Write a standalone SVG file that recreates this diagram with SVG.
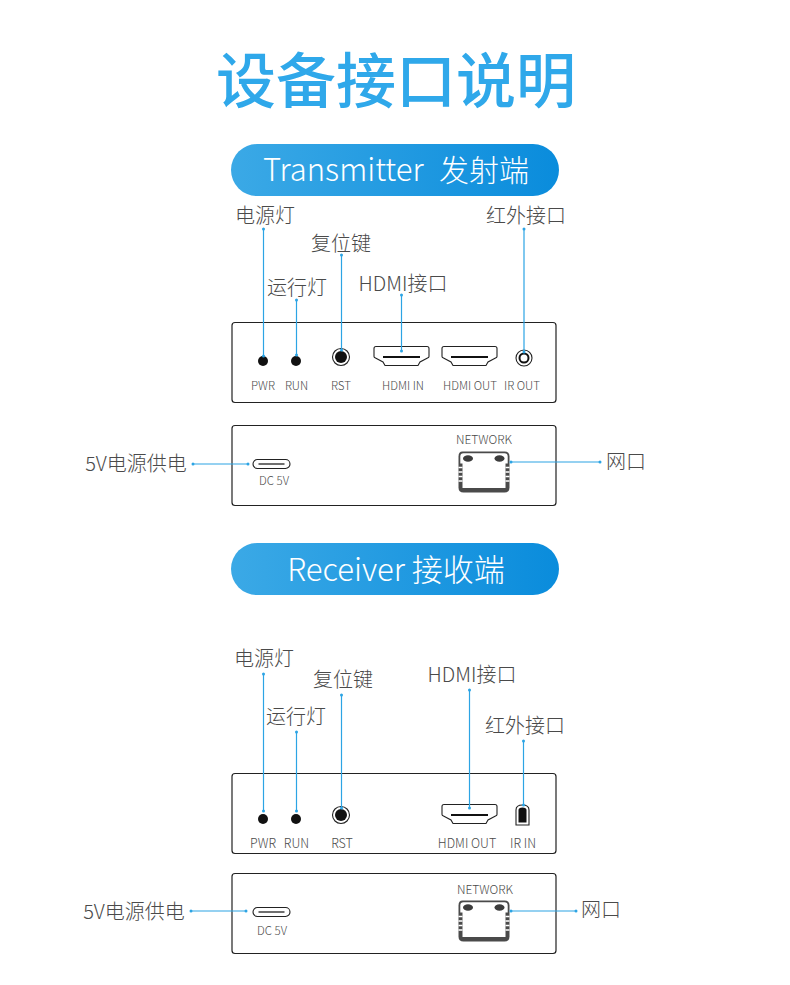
<svg xmlns="http://www.w3.org/2000/svg" xmlns:xlink="http://www.w3.org/1999/xlink" width="790" height="985" viewBox="0 0 790 985">
<style>
text{font-family:"Noto Sans CJK SC","Noto Sans",sans-serif;font-weight:300}
.title{font-size:60px;fill:#2fa8ea;font-weight:500}
.pill{font-size:31px;fill:#fff}
.lab{font-size:20px;fill:#4a4a4a}
.sm{font-size:11.500px;fill:#4a4a4a}
.sm2{font-size:12.500px;fill:#4a4a4a}
.box{fill:#fff;stroke:#222;stroke-width:1.200}
.ln{fill:none;stroke:#2ca4e4;stroke-width:1.200}
.dot{fill:#2ca4e4}
.port{fill:#fff;stroke:#222;stroke-width:1.100}
.k{fill:#111}
</style>
<defs>
<linearGradient id="g" x1="0" x2="1" y1="0" y2="0"><stop offset="0" stop-color="#3ba9e6"/><stop offset="1" stop-color="#0a8cdc"/></linearGradient>
<g id="hdmi"><path class="port" d="M-25 -11.500H26Q28 -11.500 28 -9.500V-1.500Q28 -0.500 26.500 0L19 4L17 7.500H-16L-18 4L-25.500 0Q-27 -0.500 -27 -1.500V-9.500Q-27 -11.500 -25 -11.500Z"/><rect class="k" x="-18" y="-2" width="37" height="2"/></g>
<g id="rj"><path fill="#4a4a4a" d="M4 0H46Q51 0 51 5V36Q51 41 46 41H5Q0 41 0 36V5Q0 0 4 0Z"/>
<path fill="#fff" d="M5 1.800H46Q49.200 1.800 49.200 5V12H47V36.500H4V12H1.800V5Q1.800 1.800 5 1.800Z"/>
<ellipse cx="9.500" cy="7" rx="5" ry="3.200" fill="#3c3c3c"/><ellipse cx="41" cy="7" rx="5" ry="3.200" fill="#3c3c3c"/>
<path stroke="#fff" stroke-width="1.300" d="M0 16H4M0 20.500H4M0 25H4M0 29.500H4M47 16H51M47 20.500H51M47 25H51M47 29.500H51"/></g>
<g id="typec"><rect class="port" x="-18.500" y="-4.500" width="37" height="9" rx="4.500"/><rect class="k" x="-13" y="-0.600" width="26" height="1.200"/></g>
</defs>
<rect width="790" height="985" fill="#fff"/>
<text class="title" x="396" y="103" text-anchor="middle">设备接口说明</text>

<g id="pill-tx"><rect x="231" y="144" width="328" height="52" rx="26" fill="url(#g)"/><text class="pill" x="263" y="181">Transmitter</text><text class="pill" x="439" y="181" style="font-size:30px">发射端</text></g>

<g id="box-tx-front"><rect class="box" x="232" y="322.500" width="324" height="80" rx="3"/>
<circle class="k" cx="263" cy="361" r="5"/><text class="sm" x="263" y="390" text-anchor="middle">PWR</text>
<circle class="k" cx="296" cy="361" r="5"/><text class="sm" x="296.500" y="390" text-anchor="middle">RUN</text>
<circle class="port" cx="341" cy="357" r="8.500"/><circle class="k" cx="341" cy="357" r="6"/><text class="sm" x="341" y="390" text-anchor="middle">RST</text>
<use xlink:href="#hdmi" href="#hdmi" x="401" y="358"/><text class="sm" x="403" y="390" text-anchor="middle">HDMI IN</text>
<use xlink:href="#hdmi" href="#hdmi" x="469" y="358"/><text class="sm" x="470" y="390" text-anchor="middle">HDMI OUT</text>
<circle class="port" cx="524" cy="358" r="8"/><circle fill="none" stroke="#111" stroke-width="2" cx="524" cy="358" r="4.500"/><text class="sm" x="522" y="390" text-anchor="middle">IR OUT</text></g>

<g id="box-tx-back"><rect class="box" x="232" y="425.500" width="324" height="80" rx="3"/>
<use xlink:href="#typec" href="#typec" x="271.500" y="464"/><text class="sm" x="274" y="485" text-anchor="middle">DC 5V</text>
<text class="sm" x="484" y="444" text-anchor="middle" style="font-size:12px">NETWORK</text>
<use xlink:href="#rj" href="#rj" x="458.500" y="451.500"/></g>

<g id="pill-rx"><rect x="231" y="543" width="328" height="52" rx="26" fill="url(#g)"/><text class="pill" x="396" y="581" text-anchor="middle">Receiver 接收端</text></g>

<g id="box-rx-front"><rect class="box" x="232" y="773.500" width="324" height="80" rx="3"/>
<circle class="k" cx="263" cy="819" r="5"/><text class="sm2" x="263" y="848" text-anchor="middle">PWR</text>
<circle class="k" cx="296" cy="819" r="5"/><text class="sm2" x="296.500" y="848" text-anchor="middle">RUN</text>
<circle class="port" cx="341" cy="815" r="8.500"/><circle class="k" cx="341" cy="815" r="6"/><text class="sm2" x="342" y="848" text-anchor="middle">RST</text>
<use xlink:href="#hdmi" href="#hdmi" x="469" y="816"/><text class="sm2" x="467" y="848" text-anchor="middle">HDMI OUT</text>
<path class="port" d="M516 825V810Q516 805 522.500 805Q529 805 529 810V825Z"/><path class="k" d="M518.500 822.500V810Q518.500 807.500 522.500 807.500Q526.500 807.500 526.500 810V822.500Z"/><text class="sm2" x="523" y="848" text-anchor="middle">IR IN</text></g>

<g id="box-rx-back"><rect class="box" x="232" y="873.500" width="324" height="80" rx="3"/>
<use xlink:href="#typec" href="#typec" x="271.500" y="912"/><text class="sm" x="272" y="935" text-anchor="middle">DC 5V</text>
<text class="sm" x="485" y="894" text-anchor="middle" style="font-size:12px">NETWORK</text>
<use xlink:href="#rj" href="#rj" x="458.500" y="900.500"/></g>

<g id="labels">
<text class="lab" x="265" y="223" text-anchor="middle">电源灯</text>
<text class="lab" x="341" y="251" text-anchor="middle">复位键</text>
<text class="lab" x="297" y="295" text-anchor="middle">运行灯</text>
<text class="lab" x="403" y="291" text-anchor="middle">HDMI接口</text>
<text class="lab" x="526" y="223" text-anchor="middle">红外接口</text>
<text class="lab" x="136" y="471" text-anchor="middle">5V电源供电</text>
<text class="lab" x="626" y="469" text-anchor="middle">网口</text>
<text class="lab" x="264" y="666" text-anchor="middle">电源灯</text>
<text class="lab" x="343" y="687" text-anchor="middle">复位键</text>
<text class="lab" x="296" y="724" text-anchor="middle">运行灯</text>
<text class="lab" x="472" y="682" text-anchor="middle">HDMI接口</text>
<text class="lab" x="525" y="733" text-anchor="middle">红外接口</text>
<text class="lab" x="134" y="919" text-anchor="middle">5V电源供电</text>
<text class="lab" x="601" y="917" text-anchor="middle">网口</text>
</g>

<g id="connectors">
<path class="ln" d="M263.500 229V356M296.500 300V355M341.500 255V350M401.500 295V351M524 229V352M193 464H248M511 462H600M263.500 674V811M296.500 732V811M341.500 695V808M469.500 690V808M523.500 741V805M191 911H246M511 911H576"/>
<g class="dot">
<circle cx="263.500" cy="229" r="1.500"/><circle cx="263.500" cy="356" r="1.500"/><circle cx="296.500" cy="300" r="1.500"/><circle cx="296.500" cy="355" r="1.500"/><circle cx="341.500" cy="255" r="1.500"/><circle cx="341.500" cy="350" r="1.500"/><circle cx="401.500" cy="295" r="1.500"/><circle cx="401.500" cy="351" r="1.500"/><circle cx="524" cy="229" r="1.500"/><circle cx="524" cy="352" r="1.500"/><circle cx="193" cy="464" r="1.500"/><circle cx="248" cy="464" r="1.500"/><circle cx="511" cy="462" r="1.500"/><circle cx="600" cy="462" r="1.500"/>
<circle cx="263.500" cy="674" r="1.500"/><circle cx="263.500" cy="811" r="1.500"/><circle cx="296.500" cy="732" r="1.500"/><circle cx="296.500" cy="811" r="1.500"/><circle cx="341.500" cy="695" r="1.500"/><circle cx="341.500" cy="808" r="1.500"/><circle cx="469.500" cy="690" r="1.500"/><circle cx="469.500" cy="808" r="1.500"/><circle cx="523.500" cy="741" r="1.500"/><circle cx="523.500" cy="805" r="1.500"/><circle cx="191" cy="911" r="1.500"/><circle cx="246" cy="911" r="1.500"/><circle cx="511" cy="911" r="1.500"/><circle cx="576" cy="911" r="1.500"/>
</g></g>
</svg>
